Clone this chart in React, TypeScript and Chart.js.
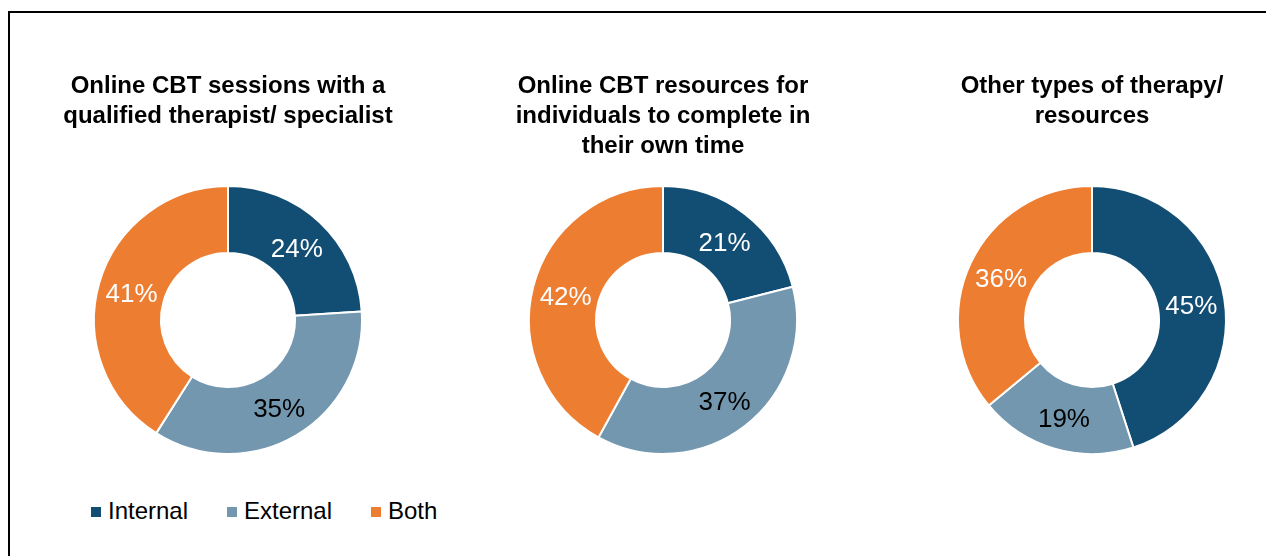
import React, { useEffect, useRef } from "react";
import { Chart, registerables } from "chart.js";

Chart.register(...registerables);

const categories = ["Internal", "External", "Both"];
const colors = ["#124E73", "#7397AF", "#ED7D31"];
const labelColors = ["#FFFFFF", "#000000", "#FFFFFF"];

const titles = [
  ["Online CBT sessions with a", "qualified therapist/ specialist"],
  ["Online CBT resources for", "individuals to complete in", "their own time"],
  ["Other types of therapy/", "resources"],
];

const sessionsValues = [24, 35, 41];
const resourcesValues = [21, 37, 42];
const otherValues = [45, 19, 36];
const seriesValues = [sessionsValues, resourcesValues, otherValues];

const centersX = [228, 663, 1092];

const FONT = "'Liberation Sans', Arial, Helvetica, sans-serif";

const labelPlugin = {
  id: "arcLabels",
  afterDatasetsDraw(chart: any) {
    const ctx = chart.ctx;
    const meta = chart.getDatasetMeta(0);
    const data = chart.data.datasets[0].data;
    ctx.save();
    ctx.font = `26px ${FONT}`;
    ctx.textAlign = "center";
    ctx.textBaseline = "middle";
    meta.data.forEach((arc: any, i: number) => {
      const p = arc.tooltipPosition();
      ctx.fillStyle = labelColors[i];
      ctx.fillText(`${data[i]}%`, p.x, p.y + 3);
    });
    ctx.restore();
  },
};

function Donut({ index }: { index: number }) {
  const ref = useRef<HTMLCanvasElement | null>(null);
  useEffect(() => {
    if (!ref.current) return;
    const lines = titles[index].length;
    const chart = new Chart(ref.current, {
      type: "doughnut",
      data: {
        labels: categories,
        datasets: [
          {
            data: seriesValues[index],
            backgroundColor: colors,
            borderColor: "#FFFFFF",
            borderWidth: 2,
          },
        ],
      },
      options: {
        animation: false,
        responsive: false,
        maintainAspectRatio: false,
        cutout: "50%",
        layout: { padding: 0 },
        plugins: {
          legend: { display: false },
          tooltip: { enabled: false },
          title: {
            display: true,
            text: titles[index],
            color: "#000000",
            font: { family: FONT, size: 24, weight: "bold", lineHeight: 1.25 },
            padding: { top: 5, bottom: lines === 3 ? 24 : 54 },
          },
        },
      },
      plugins: [labelPlugin],
    });
    return () => chart.destroy();
  }, [index]);
  return (
    <canvas
      ref={ref}
      width={340}
      height={389}
      style={{
        position: "absolute",
        left: centersX[index] - 170,
        top: 66,
        width: 340,
        height: 389,
      }}
    />
  );
}

const legendSquareX = [91, 227, 371];

export default function App() {
  return (
    <div
      style={{
        position: "fixed",
        left: 0,
        top: 0,
        width: 1266,
        height: 556,
        overflow: "hidden",
        background: "#FFFFFF",
      }}
    >
      <div
        style={{
          position: "absolute",
          left: 8,
          top: 11,
          width: 1258,
          height: 545,
          borderTop: "2px solid #000",
          borderLeft: "2px solid #000",
          boxSizing: "border-box",
        }}
      />
      {[0, 1, 2].map((i) => (
        <Donut key={i} index={i} />
      ))}
      {categories.map((c, i) => (
        <div key={c}>
          <div
            style={{
              position: "absolute",
              left: legendSquareX[i],
              top: 507,
              width: 10,
              height: 10,
              background: colors[i],
            }}
          />
          <div
            style={{
              position: "absolute",
              left: legendSquareX[i] + 17,
              top: 497,
              font: `24px ${FONT}`,
              lineHeight: "28px",
              color: "#000",
              whiteSpace: "nowrap",
            }}
          >
            {c}
          </div>
        </div>
      ))}
    </div>
  );
}
